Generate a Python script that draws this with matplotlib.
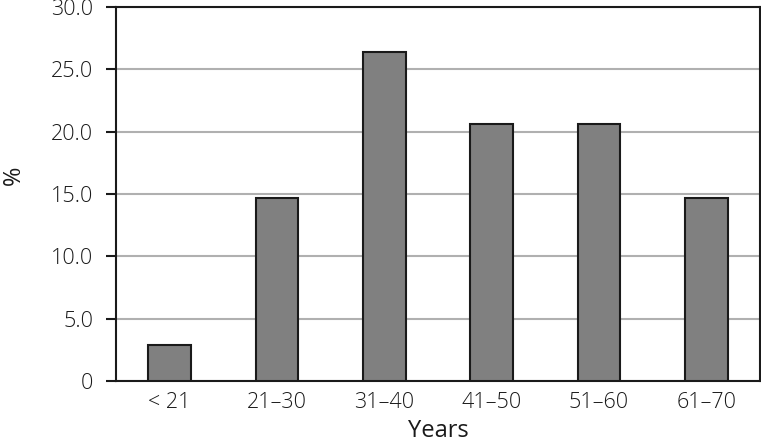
import matplotlib
matplotlib.use('Agg')
import matplotlib.pyplot as plt

# age groups and share of patients (%)
categories = ['< 21', '21–30', '31–40', '41–50', '51–60', '61–70']
percent = [2.9, 14.7, 26.4, 20.6, 20.6, 14.7]
y_ticks = [0, 5, 10, 15, 20, 25, 30]
y_tick_labels = ['0', '5.0', '10.0', '15.0', '20.0', '25.0', '30.0']

plt.rcParams['font.family'] = ['Open Sans', 'DejaVu Sans']
plt.rcParams['font.weight'] = 'light'

fig = plt.figure(figsize=(7.61, 4.43), dpi=100)
ax = fig.add_axes([116 / 761, 1 - 381 / 443, 644 / 761, 374 / 443])

x = range(len(categories))
ax.bar(x, percent, width=0.4, color='#808080', edgecolor='#1a1a1a',
       linewidth=1.5, zorder=3)

ax.set_xlim(-0.5, len(categories) - 0.5)
ax.set_ylim(0, 30)
ax.set_yticks(y_ticks)
ax.set_yticklabels(y_tick_labels)
ax.set_xticks(list(x))
ax.set_xticklabels(categories)
ax.yaxis.grid(True, color='#b0b0b0', linewidth=1.5, zorder=0)

ax.tick_params(axis='y', length=7.5, width=1.5, labelsize=15.5, pad=9,
               colors='#1a1a1a')
ax.tick_params(axis='x', length=0, labelsize=15.5, pad=8, colors='#1a1a1a')
for s in ax.spines.values():
    s.set_linewidth(1.5)
    s.set_color('#1a1a1a')

ax.set_xlabel('Years', fontsize=17, labelpad=4, color='#1a1a1a')
ax.set_ylabel('%', fontsize=17, color='#1a1a1a')
ax.yaxis.set_label_coords(-0.14, 0.55)

fig.savefig('out.png', dpi=100)
